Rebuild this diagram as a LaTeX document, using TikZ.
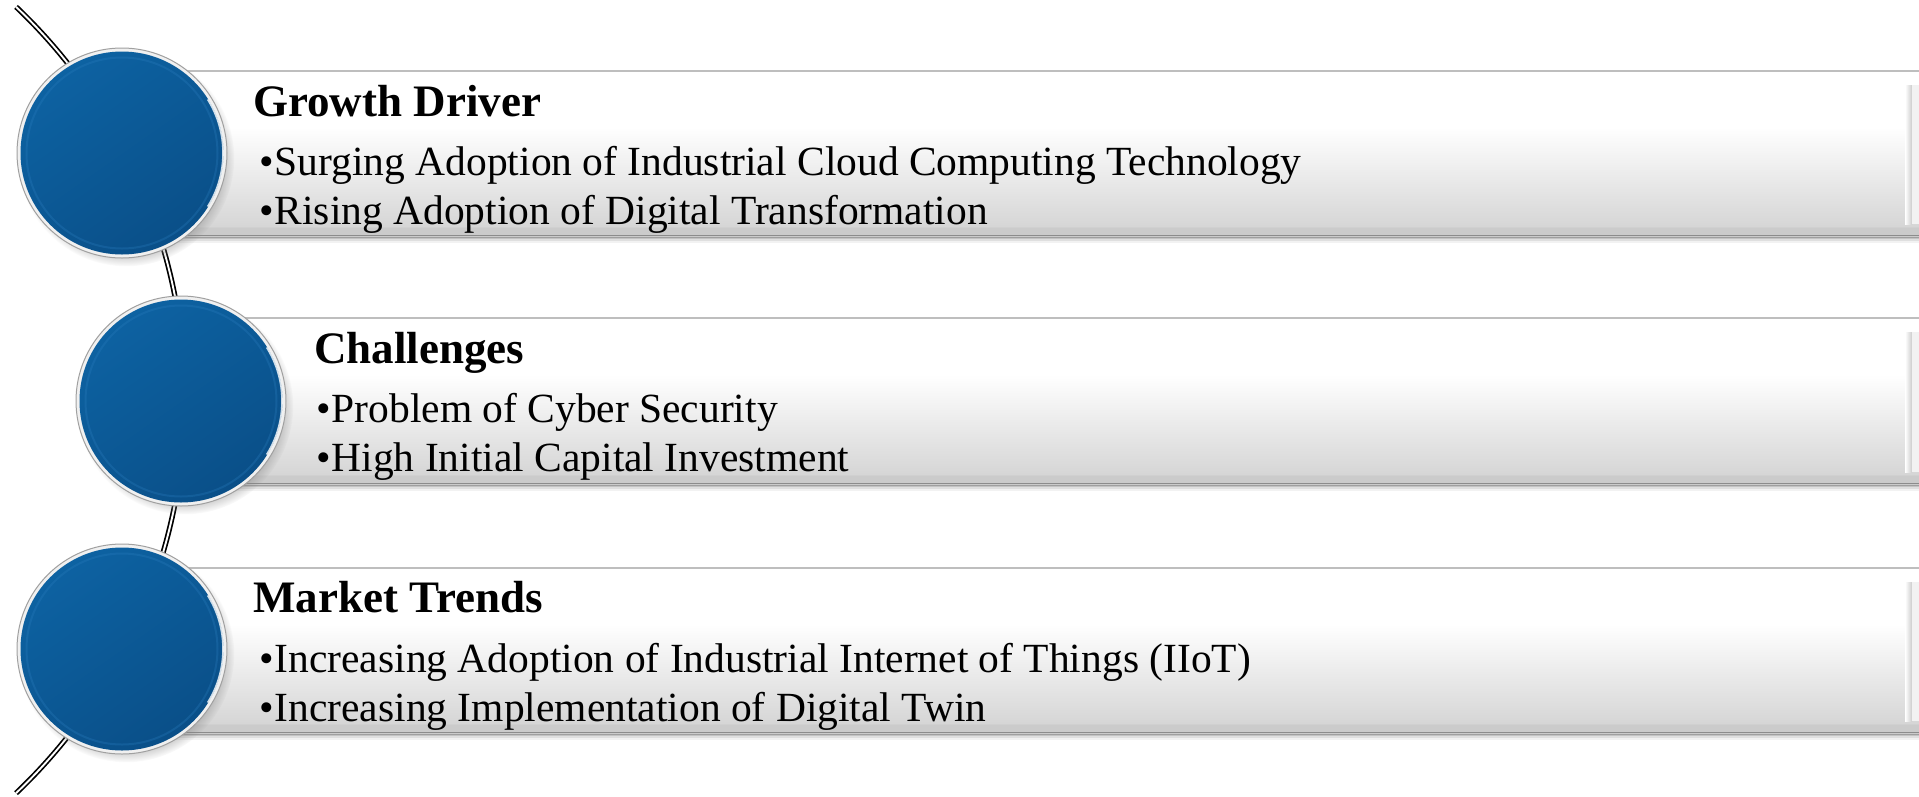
\documentclass[tikz,border=0pt]{standalone}
\usepackage{fontspec}
\setmainfont{Liberation Serif}
\usetikzlibrary{calc,shadows}
\definecolor{bluetop}{HTML}{0D62A2}
\definecolor{bluebot}{HTML}{0A4F88}
\definecolor{rimblue}{HTML}{2A7DBE}
\definecolor{ringgray}{HTML}{A0A0A0}
\definecolor{ringface}{HTML}{F0F0F0}
\definecolor{barbot}{HTML}{CBCBCB}
\definecolor{barbotb}{HTML}{D6D6D6}
\definecolor{baredge}{HTML}{BEBEBE}
\definecolor{bardark}{HTML}{8C8C8C}
\pgfdeclareverticalshading{barshade}{100bp}{color(0bp)=(barbot); color(25bp)=(barbot); color(27.5bp)=(barbot); color(28bp)=(barbotb); color(58bp)=(white); color(75bp)=(white); color(100bp)=(white)}
\tikzset{
  wire/.style={draw=black, line width=1.7pt, double=white, double distance=1.9pt},
  barbox/.style={rectangle, inner sep=0pt, outer sep=0pt, anchor=north west,
    shade, shading=barshade,
    drop shadow={shadow xshift=0pt, shadow yshift=-7pt, opacity=0.05, fill=black},
    drop shadow={shadow xshift=0pt, shadow yshift=-5pt, opacity=0.08, fill=black},
    drop shadow={shadow xshift=0pt, shadow yshift=-3pt, opacity=0.12, fill=black},
    drop shadow={shadow xshift=0pt, shadow yshift=-1.5pt, opacity=0.18, fill=black}},
  topedge/.style={draw=baredge, line width=2pt},
  botedge/.style={draw=bardark, line width=1.5pt},
  bevel/.style={left color=white, right color=gray!40},
  ball/.style={circle, inner sep=0pt, minimum size=210pt, fill=ringface, draw=ringgray, line width=1pt,
    circular drop shadow={shadow xshift=4pt, shadow yshift=-5pt, shadow scale=1.03, opacity=0.55}},
  ballcore/.style={circle, inner sep=0pt, minimum size=203pt, top color=bluetop, bottom color=bluebot, shading angle=35},
  ballrim/.style={circle, inner sep=0pt, minimum size=191pt, draw=rimblue, line width=2pt, draw opacity=0.3},
  shine/.style={draw=white, line width=1.6pt, draw opacity=0.8},
  titletext/.style={anchor=base west, inner sep=0pt, font=\fontsize{45}{52}\selectfont\bfseries},
  itemtext/.style={anchor=base west, inner sep=0pt, font=\fontsize{41.5}{48}\selectfont},
}
\begin{document}
\begin{tikzpicture}[x=1pt,y=-1pt]
\useasboundingbox (0,0) rectangle (1919,796);
\fill[white] (0,0) rectangle (1919,796);
% connecting wire
\coordinate (arcC) at (-357,400);
\coordinate (arcS) at ($(arcC)+(-46.5:542)$);
\draw[wire] (arcS) arc[start angle=-46.5, end angle=46.5, radius=542];
% bars
\node[barbox, minimum width=1797pt, minimum height=165pt] (b1) at (122,71) {};
\node[barbox, minimum width=1738pt, minimum height=166pt] (b2) at (181,318) {};
\node[barbox, minimum width=1797pt, minimum height=165pt] (b3) at (122,568) {};
\foreach \b in {b1,b2,b3}{
  \draw[topedge] (\b.north west) -- (\b.north east);
  \draw[botedge] ([yshift=0.75pt]\b.south west) -- ([yshift=0.75pt]\b.south east);
  \shade[bevel] ([xshift=-14pt,yshift=-14pt]\b.north east) rectangle ([xshift=-7pt,yshift=12pt]\b.south east);
  \fill[gray!10] ([xshift=-7pt,yshift=-14pt]\b.north east) rectangle ([yshift=12pt]\b.south east);
}
% balls
\foreach \n/\x/\y in {c1/122/153, c2/181/401, c3/122/649}{
  \node[ball] (\n) at (\x,\y) {};
  \node[ballcore] (\n core) at (\n) {};
  \node[ballrim] (\n rim) at (\n) {};
  \draw[shine] ($(\n)+(-32:101)$) arc[start angle=-32, end angle=32, radius=101];
}
% texts
\node[titletext] (t1) at (253,116) {Growth Driver};
\node[itemtext] (t1a) at (259,175) {\textbullet\hspace{1pt}Surging Adoption of Industrial Cloud Computing Technology};
\node[itemtext] (t1b) at (259,224) {\textbullet\hspace{1pt}Rising Adoption of Digital Transformation};
\node[titletext] (t2) at (314,363) {Challenges};
\node[itemtext] (t2a) at (316,422) {\textbullet\hspace{1pt}Problem of Cyber Security};
\node[itemtext] (t2b) at (316,471) {\textbullet\hspace{1pt}High Initial Capital Investment};
\node[titletext] (t3) at (253,612) {Market Trends};
\node[itemtext] (t3a) at (259,672) {\textbullet\hspace{1pt}Increasing Adoption of Industrial Internet of Things (IIoT)};
\node[itemtext] (t3b) at (259,721) {\textbullet\hspace{1pt}Increasing Implementation of Digital Twin};
\end{tikzpicture}
\end{document}
